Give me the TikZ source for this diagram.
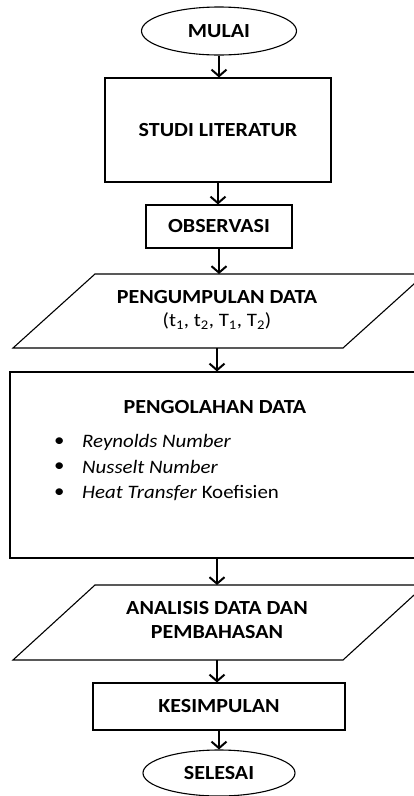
\documentclass[tikz,border=0pt]{standalone}
\usepackage{fontspec}
\setmainfont{Carlito}[FakeStretch=1.1]
\usetikzlibrary{shapes.geometric,arrows.meta}

\tikzset{
  box/.style={draw, line width=1.1pt, rectangle, inner sep=0pt},
  term/.style={draw, line width=1.1pt, ellipse, inner sep=0pt},
  lbl/.style={font=\fontsize{20}{24}\selectfont\bfseries, align=center, inner sep=0pt},
  item/.style={font=\fontsize{19}{23}\selectfont, anchor=west, inner sep=0pt},
  flow/.style={line width=2pt, -{Straight Barb[length=6.5pt,width=15pt,line width=2pt]}},
  para/.style={draw, line width=1.1pt, line join=miter}
}

\begin{document}
\begin{tikzpicture}[x=1pt,y=-1pt]
\useasboundingbox (0,0) rectangle (414,796);

% start and end terminals
\node[term, minimum width=155pt, minimum height=48pt] (mulai) at (219,31) {};
\node[lbl] at (mulai) {MULAI};

\node[box, minimum width=226pt, minimum height=104pt] (studi) at (218,130) {};
\node[lbl] at (studi) {STUDI LITERATUR};

\node[box, minimum width=146pt, minimum height=43pt] (obs) at (219,226.5) {};
\node[lbl] at (obs) {OBSERVASI};

% data input parallelogram
\draw[para] (13,348) -- (95,274) -- (425,274) -- (343,348) -- cycle;
\coordinate (kumpulTop) at (217,274);
\coordinate (kumpulBot) at (217,348);
\node[lbl] (kumpul) at (217,297) {PENGUMPULAN DATA};
\node[font=\fontsize{19}{23}\selectfont, inner sep=0pt] (kumpulVar) at (217,321)
  {(t\textsubscript{1}, t\textsubscript{2}, T\textsubscript{1}, T\textsubscript{2})};

% data processing block
\node[box, minimum width=412pt, minimum height=186pt] (olah) at (216,465) {};
\node[lbl] (olahTitle) at (215,407) {PENGOLAHAN DATA};
\node[item] (b1) at (54,442) {\textbullet};
\node[item] (b2) at (54,467) {\textbullet};
\node[item] (b3) at (54,493) {\textbullet};
\node[item] (i1) at (82,442) {\textit{Reynolds Number}};
\node[item] (i2) at (82,467) {\textit{Nusselt Number}};
\node[item] (i3) at (82,493) {\textit{Heat Transfer} Koefisien};

% analysis parallelogram
\draw[para] (13,660) -- (95,585) -- (425,585) -- (343,660) -- cycle;
\coordinate (analTop) at (217,585);
\coordinate (analBot) at (217,660);
\node[lbl] (anal) at (217,620) {ANALISIS DATA DAN\\PEMBAHASAN};

\node[box, minimum width=252pt, minimum height=47pt] (kes) at (219,706.5) {};
\node[lbl] at (kes) {KESIMPULAN};

\node[term, minimum width=152pt, minimum height=46pt] (selesai) at (219,773) {};
\node[lbl] at (selesai) {SELESAI};

% connectors
\draw[flow] (mulai.south) -- (mulai.south |- studi.north);
\draw[flow] (studi.south) -- (studi.south |- obs.north);
\draw[flow] (obs.south) -- (obs.south |- kumpulTop);
\draw[flow] (kumpulBot) -- (kumpulBot |- olah.north);
\draw[flow] (kumpulBot |- olah.south) -- (analTop);
\draw[flow] (analBot) -- (analBot |- kes.north);
\draw[flow] (kes.south) -- (kes.south |- selesai.north);
\end{tikzpicture}
\end{document}
